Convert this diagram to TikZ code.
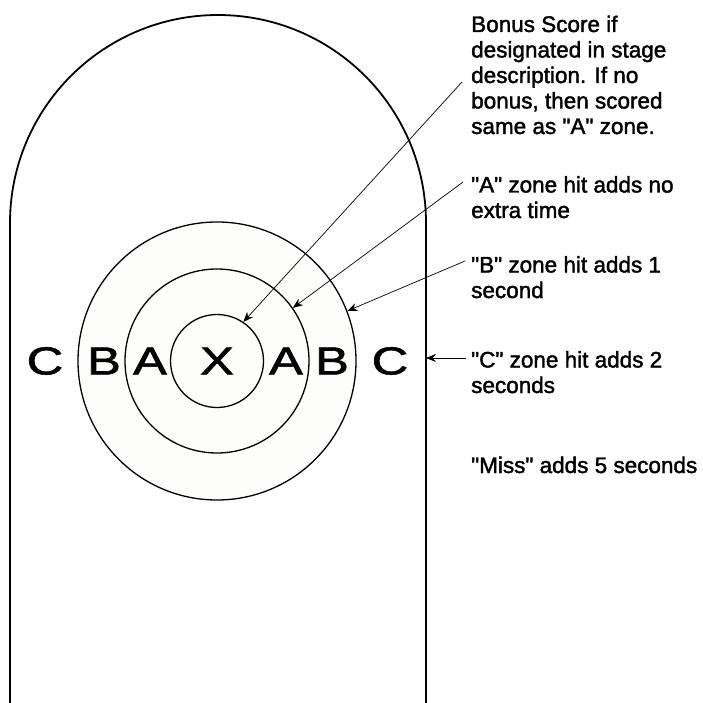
\documentclass[tikz,border=0pt]{standalone}
\usepackage{fontspec}
\newfontfamily\notefont[FakeBold=1.8]{Liberation Sans}
\newfontfamily\zonefont[FakeBold=1.5]{Liberation Sans}
\usetikzlibrary{arrows.meta}
\definecolor{ringfill}{RGB}{253,253,251}
\tikzset{
  ring/.style={draw=black, line width=1.3pt, circle, inner sep=0pt, fill=ringfill},
  zone/.style={inner sep=0pt, font=\zonefont\fontsize{39}{39}\selectfont},
  note/.style={anchor=base west, inner sep=0pt, align=left, font=\notefont\fontsize{22.5}{25.5}\selectfont},
  pointer/.style={line width=0.7pt, -{Stealth[length=10pt, width=8pt]}},
}
\newcommand{\wideletter}[1]{\scalebox{1.3}[1]{#1}}
\begin{document}
\begin{tikzpicture}[x=1pt, y=-1pt]
\useasboundingbox (0,0) rectangle (702,703);
% outline
\draw[line width=1.8pt] (10,703) -- (10,223) arc (180:360:208) -- (426,703);
% rings
\node[ring, minimum size=278pt] (outer) at (217,361) {};
\node[ring, minimum size=184pt] (middle) at (217,361) {};
\node[ring, minimum size=93pt] (inner) at (217,361) {};
% zone letters
\node[zone] (cl) at (45,361) {\wideletter{C}};
\node[zone] (bl) at (104,361) {\wideletter{B}};
\node[zone] (al) at (150,361) {\wideletter{A}};
\node[zone] (x) at (217,361) {\wideletter{X}};
\node[zone] (ar) at (286,361) {\wideletter{A}};
\node[zone] (br) at (332,361) {\wideletter{B}};
\node[zone] (cr) at (390,361) {\wideletter{C}};
% notes (anchored at the baseline of their last line)
\node[note] (bonus) at (471,134) {Bonus Score if\\designated in stage\\description. If no\\bonus, then scored\\same as "A" zone.};
\node[note] (azone) at (471,218) {"A" zone hit adds no\\extra time};
\node[note] (bzone) at (471,298) {"B" zone hit adds 1\\second};
\node[note] (czone) at (471,393) {"C" zone hit adds 2\\seconds};
\node[note] (miss) at (471,473) {"Miss" adds 5 seconds};
% pointer starts
\coordinate (p1) at (462,82);
\coordinate (p2) at (463,182);
\coordinate (p3) at (465,261);
\coordinate (p4) at (466,358);
\coordinate (edge) at (426,358);
% pointers
\draw[pointer] (p1) -- (inner.56);
\draw[pointer] (p2) -- (middle.35);
\draw[pointer] (p3) -- (outer.21);
\draw[pointer] (p4) -- (edge);
\end{tikzpicture}
\end{document}
